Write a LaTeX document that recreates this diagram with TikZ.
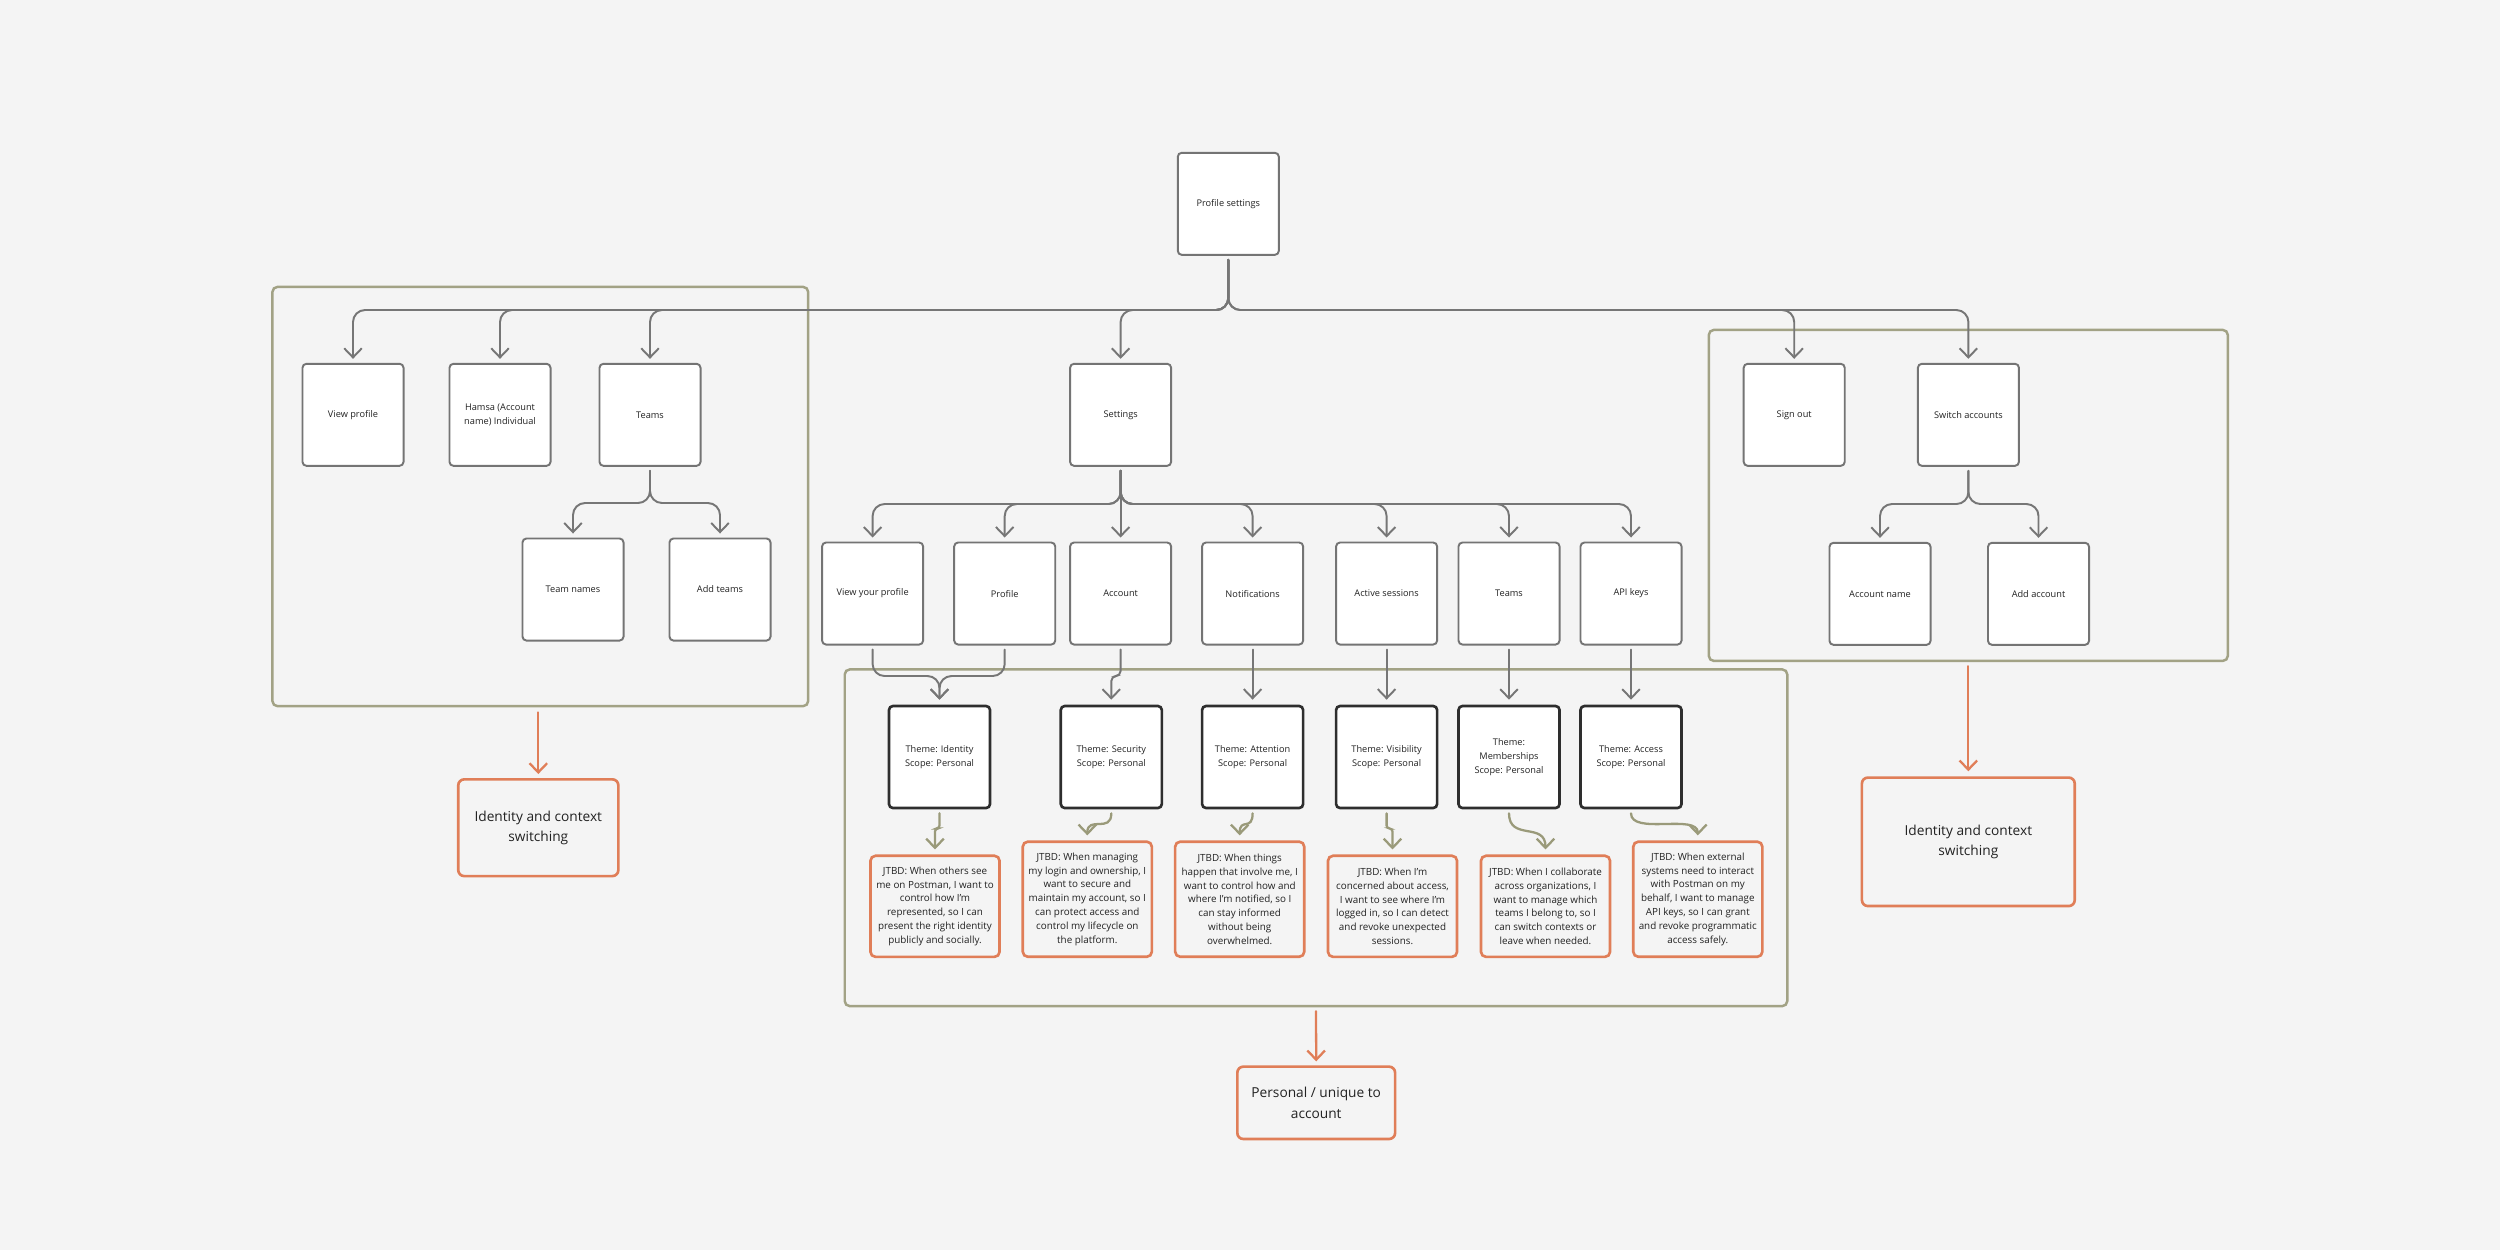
\documentclass[tikz,border=0pt]{standalone}
\usepackage{fontspec}
\setmainfont{Open Sans}
\usetikzlibrary{arrows.meta,calc}
\definecolor{bg}{HTML}{F4F4F4}
\definecolor{cgray}{HTML}{767676}
\definecolor{nodeborder}{HTML}{747474}
\definecolor{themeborder}{HTML}{2E2E2E}
\definecolor{olive}{HTML}{A2A285}
\definecolor{oliveline}{HTML}{9A9A7A}
\definecolor{orng}{HTML}{E07E58}
\definecolor{txt}{HTML}{222222}
\begin{document}
\begin{tikzpicture}[x=0.01cm,y=-0.01cm,
  box/.style={draw=nodeborder,line width=0.55pt,fill=white,rounded corners=0.04cm,
    minimum width=1.01cm,minimum height=1.02cm,inner sep=0pt,align=center,text=txt,
    font=\fontsize{2.62pt}{3.95pt}\selectfont},
  theme/.style={box,draw=themeborder,line width=0.75pt},
  jtbd/.style={draw=orng,line width=0.75pt,fill=bg,rounded corners=0.05cm,
    minimum width=1.29cm,inner sep=0pt,align=center,text=txt,
    font=\fontsize{2.8pt}{3.93pt}\selectfont},
  outcome/.style={draw=orng,line width=0.75pt,fill=bg,rounded corners=0.06cm,
    inner sep=0pt,align=center,text=txt,font=\fontsize{3.9pt}{5.8pt}\selectfont},
  group/.style={draw=olive,line width=0.7pt,rounded corners=0.05cm,inner sep=0pt},
  conn/.style={draw=cgray,line width=0.55pt,rounded corners=0.12cm,line cap=round,
    -{Straight Barb[length=2.6pt,width=5pt]}},
  gconn/.style={draw=oliveline,line width=0.65pt,line cap=round,
    -{Straight Barb[length=2.6pt,width=5pt]}},
  oconn/.style={draw=orng,line width=0.65pt,line cap=round,
    -{Straight Barb[length=2.6pt,width=5pt]}}
]
\fill[bg] (0,0) rectangle (2500,1250);
\useasboundingbox (0,0) rectangle (2500,1250);

% groups
\node[group,minimum width=5.354cm,minimum height=4.19cm] (gL) at (540.3,496.5) {};
\node[group,minimum width=9.42cm,minimum height=3.365cm] (gM) at (1316,837.75) {};
\node[group,minimum width=5.187cm,minimum height=3.308cm] (gR) at (1968.3,495.4) {};

% level 0/1
\node[box] (ps) at (1228.3,203.8) {Profile settings};
\node[box] (view) at (353,414.8) {View profile};
\node[box] (hamsa) at (500,414.8) {Hamsa (Account\\name) Individual};
\node[box] (teamsL) at (650,414.8) {Teams};
\node[box] (settings) at (1120.6,414.8) {Settings};
\node[box] (signout) at (1794.2,414.8) {Sign out};
\node[box] (switch) at (1968.4,414.8) {Switch accounts};

% level 2
\node[box] (teamnames) at (573,589.5) {Team names};
\node[box] (addteams) at (720,589.5) {Add teams};
\node[box] (vyp) at (872.6,593.5) {View your profile};
\node[box] (profile) at (1004.7,593.5) {Profile};
\node[box] (account) at (1120.6,593.5) {Account};
\node[box] (notif) at (1252.6,593.5) {Notifications};
\node[box] (sessions) at (1386.6,593.5) {Active sessions};
\node[box] (teamsS) at (1509,593.5) {Teams};
\node[box] (apikeys) at (1631,593.5) {API keys};
\node[box] (accname) at (1880,593.8) {Account name};
\node[box] (addacc) at (2038.5,593.8) {Add account};

% themes
\node[theme] (thId) at (939.5,757) {Theme: Identity\\Scope: Personal};
\node[theme] (thSec) at (1111.3,757) {Theme: Security\\Scope: Personal};
\node[theme] (thAtt) at (1252.6,757) {Theme: Attention\\Scope: Personal};
\node[theme] (thVis) at (1386.6,757) {Theme: Visibility\\Scope: Personal};
\node[theme] (thMem) at (1509,757) {Theme:\\Memberships\\Scope: Personal};
\node[theme] (thAcc) at (1631,757) {Theme: Access\\Scope: Personal};

% JTBD
\node[jtbd,minimum height=1.01cm] (jId) at (935,906.3) {JTBD: When others see\\me on Postman, I want to\\control how I’m\\represented, so I can\\present the right identity\\publicly and socially.};
\node[jtbd,minimum height=1.15cm] (jSec) at (1087.3,899.2) {JTBD: When managing\\my login and ownership, I\\want to secure and\\maintain my account, so I\\can protect access and\\control my lifecycle on\\the platform.};
\node[jtbd,minimum height=1.15cm] (jAtt) at (1239.7,899.2) {JTBD: When things\\happen that involve me, I\\want to control how and\\where I’m notified, so I\\can stay informed\\without being\\overwhelmed.};
\node[jtbd,minimum height=1.01cm] (jVis) at (1392.5,906.3) {JTBD: When I’m\\concerned about access,\\I want to see where I’m\\logged in, so I can detect\\and revoke unexpected\\sessions.};
\node[jtbd,minimum height=1.01cm] (jMem) at (1545.5,906.3) {JTBD: When I collaborate\\across organizations, I\\want to manage which\\teams I belong to, so I\\can switch contexts or\\leave when needed.};
\node[jtbd,minimum height=1.15cm] (jAcc) at (1697.8,899.2) {JTBD: When external\\systems need to interact\\with Postman on my\\behalf, I want to manage\\API keys, so I can grant\\and revoke programmatic\\access safely.};

% outcomes
\node[outcome,minimum width=1.6cm,minimum height=0.967cm] (outL) at (538.3,827.7) {Identity and context\\switching};
\node[outcome,minimum width=1.577cm,minimum height=0.723cm] (outM) at (1316.2,1102.8) {Personal / unique to\\account};
\node[outcome,minimum width=2.127cm,minimum height=1.284cm] (outR) at (1968.3,841.8) {Identity and context\\switching};

% buses
\coordinate (b0) at (0,310);
\coordinate (b1) at (0,504);
\coordinate (b2) at (0,503);
\coordinate (b3) at (0,676);

\foreach \t in {view,hamsa,teamsL,settings,signout,switch}
  \draw[conn] ($(ps.south)+(0,4)$) -- (ps.south |- b0) -| ($(\t.north)+(0,-4)$);
\foreach \t in {teamnames,addteams}
  \draw[conn] ($(teamsL.south)+(0,4)$) -- (teamsL.south |- b2) -| ($(\t.north)+(0,-4)$);
\foreach \t in {vyp,profile,notif,sessions,teamsS,apikeys}
  \draw[conn] ($(settings.south)+(0,4)$) -- (settings.south |- b1) -| ($(\t.north)+(0,-4)$);
\draw[conn] ($(settings.south)+(0,4)$) -- ($(account.north)+(0,-4)$);
\foreach \t in {accname,addacc}
  \draw[conn] ($(switch.south)+(0,4)$) -- (switch.south |- b1) -| ($(\t.north)+(0,-4)$);

\foreach \t in {vyp,profile}
  \draw[conn] ($(\t.south)+(0,4)$) -- (\t.south |- b3) -| ($(thId.north)+(0,-5)$);
\draw[conn,rounded corners=0.05cm] ($(account.south)+(0,4)$) -- (account.south |- b3) -| ($(thSec.north)+(0,-5)$);
\draw[conn] ($(notif.south)+(0,4)$) -- ($(thAtt.north)+(0,-5)$);
\draw[conn] ($(sessions.south)+(0,4)$) -- ($(thVis.north)+(0,-5)$);
\draw[conn] ($(teamsS.south)+(0,4)$) -- ($(thMem.north)+(0,-5)$);
\draw[conn] ($(apikeys.south)+(0,4)$) -- ($(thAcc.north)+(0,-5)$);

% green theme -> JTBD
\draw[gconn,rounded corners=0.03cm] ($(thId.south)+(0,4)$) |- ($(jId.north)+(0,-26)$) -- ($(jId.north)+(0,-5)$);
\draw[gconn] ($(thSec.south)+(0,4)$) .. controls +(0,20) and +(0,-20) .. ($(jSec.north)+(0,-5)$);
\draw[gconn] ($(thAtt.south)+(0,4)$) .. controls +(0,18) and +(0,-18) .. ($(jAtt.north)+(0,-5)$);
\draw[gconn,rounded corners=0.03cm] ($(thVis.south)+(0,4)$) |- ($(jVis.north)+(0,-26)$) -- ($(jVis.north)+(0,-5)$);
\draw[gconn] ($(thMem.south)+(0,4)$) .. controls +(0,28) and +(0,-28) .. ($(jMem.north)+(0,-5)$);
\draw[gconn] ($(thAcc.south)+(0,4)$) .. controls +(0,22) and +(0,-22) .. ($(jAcc.north)+(0,-5)$);

% orange group -> outcome
\draw[oconn] ($(outL.north |- gL.south)+(0,5)$) -- ($(outL.north)+(0,-4)$);
\draw[oconn] ($(gM.south)+(0,4)$) -- ($(outM.north)+(0,-4)$);
\draw[oconn] ($(gR.south)+(0,4)$) -- ($(outR.north)+(0,-5)$);
\end{tikzpicture}
\end{document}
